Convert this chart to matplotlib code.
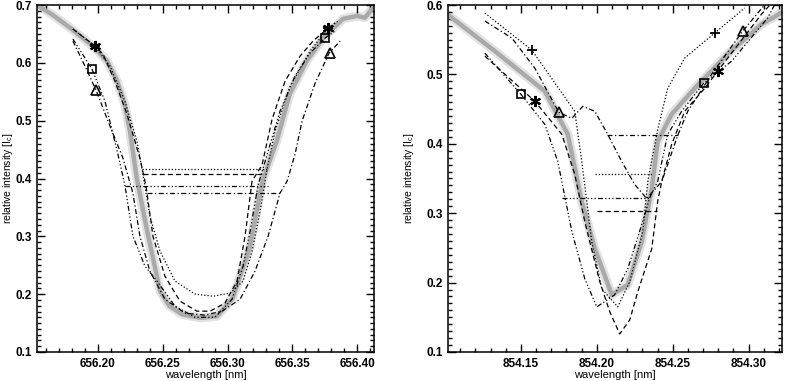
import matplotlib
matplotlib.use("Agg")
from matplotlib import pyplot as plt
from matplotlib.ticker import MultipleLocator, FormatStrFormatter

plt.rcParams['font.family'] = ['Liberation Sans', 'DejaVu Sans']

# ---------------- H-alpha panel (left) ----------------
ha_obs_x = [656.153, 656.165, 656.180, 656.197, 656.207, 656.2147, 656.2205, 656.2247, 656.230,
            656.238, 656.248, 656.255, 656.265, 656.279, 656.292, 656.304, 656.317, 656.327,
            656.338, 656.348, 656.361, 656.374, 656.389, 656.400, 656.406, 656.413]
ha_obs_y = [0.700, 0.683, 0.658, 0.627, 0.603, 0.569, 0.530, 0.482, 0.400,
            0.309, 0.205, 0.180, 0.165, 0.159, 0.162, 0.193, 0.280, 0.396,
            0.465, 0.546, 0.603, 0.643, 0.676, 0.681, 0.678, 0.697]

ha_dot_x = [656.1807, 656.1977, 656.2093, 656.2208, 656.2301, 656.234, 656.2401, 656.2479, 656.2595,
            656.275, 656.2888, 656.3019, 656.312, 656.3189, 656.3251, 656.3305, 656.3367, 656.3483,
            656.3637, 656.3776, 656.3853]
ha_dot_y = [0.6585, 0.629, 0.5945, 0.5339, 0.4647, 0.4163, 0.3349, 0.2744, 0.2225,
            0.200, 0.1965, 0.2017, 0.2225, 0.2744, 0.3436, 0.4163, 0.482, 0.5599,
            0.6204, 0.6602, 0.6723]

ha_dash_x = [656.1807, 656.1977, 656.2039, 656.2131, 656.2224, 656.2324, 656.2371, 656.2425, 656.2517,
             656.2633, 656.2764, 656.2865, 656.298, 656.3073, 656.3135, 656.3189, 656.3266, 656.3344,
             656.3444, 656.356, 656.366, 656.3776, 656.383]
ha_dash_y = [0.6585, 0.629, 0.615, 0.5685, 0.5114, 0.4353, 0.387, 0.300, 0.231,
             0.188, 0.1706, 0.1706, 0.1844, 0.2225, 0.300, 0.3955, 0.4232, 0.5028,
             0.5685, 0.6118, 0.6377, 0.6602, 0.6689]

ha_d3_x = [656.1807, 656.1954, 656.2054, 656.2154, 656.2208, 656.227, 656.2363, 656.2456, 656.2595,
           656.275, 656.2903, 656.3035, 656.312, 656.3174, 656.3236, 656.3313, 656.3405, 656.3521,
           656.3637, 656.3753, 656.383]
ha_d3_y = [0.6412, 0.5893, 0.5339, 0.4422, 0.3886, 0.3003, 0.2484, 0.2225, 0.1792,
           0.160, 0.160, 0.1913, 0.2484, 0.309, 0.3886, 0.4474, 0.5166, 0.5772,
           0.617, 0.6429, 0.655]

ha_dd_x = [656.1807, 656.190, 656.1985, 656.2093, 656.2193, 656.227, 656.2324, 656.2401, 656.2517,
           656.2672, 656.2826, 656.2958, 656.3097, 656.3212, 656.3313, 656.3405, 656.346, 656.3521,
           656.3575, 656.3676, 656.3784, 656.3869]
ha_dd_y = [0.6377, 0.5945, 0.553, 0.4906, 0.4353, 0.3747, 0.3003, 0.2398, 0.1913,
           0.1671, 0.1637, 0.1706, 0.1913, 0.2398, 0.3003, 0.3747, 0.3955, 0.4422,
           0.4993, 0.565, 0.617, 0.6377]

# widths (horizontal bars): dotted, dashed, dash-3dot, dash-dot
ha_bar_y = [0.4163, 0.4076, 0.387, 0.375]
ha_bar_x0 = [656.234, 656.235, 656.221, 656.238]
ha_bar_x1 = [656.3305, 656.329, 656.331, 656.342]

# symbol positions: plus, asterisk, square, triangle
ha_plus = ([656.1977, 656.3776], [0.629, 0.660])
ha_star = ([656.1977, 656.3776], [0.629, 0.660])
ha_sq = ([656.1954, 656.3753], [0.589, 0.643])
ha_tri = ([656.1985, 656.3790], [0.553, 0.617])

# ---------------- Ca II 854.2 panel (right) ----------------
ca_obs_x = [854.1013, 854.1329, 854.1658, 854.1809, 854.1901, 854.1987, 854.2099, 854.2204,
            854.2296, 854.2362, 854.2401, 854.2493, 854.2645, 854.2862, 854.3086, 854.3237]
ca_obs_y = [0.587, 0.5335, 0.4757, 0.4136, 0.3168, 0.2488, 0.1824, 0.1968,
            0.259, 0.3355, 0.4035, 0.4425, 0.480, 0.5292, 0.5725, 0.5913]

ca_dot_x = [854.1263, 854.1572, 854.1855, 854.1901, 854.1967, 854.2033, 854.2138, 854.2217,
            854.2303, 854.2336, 854.2401, 854.2467, 854.2579, 854.2776, 854.2974]
ca_dot_y = [0.5884, 0.535, 0.4468, 0.3746, 0.259, 0.191, 0.165, 0.2012,
            0.2734, 0.3457, 0.420, 0.480, 0.5234, 0.5595, 0.5957]

ca_dash_x = [854.1263, 854.1592, 854.177, 854.1855, 854.1921, 854.202, 854.2086, 854.2151,
             854.2217, 854.227, 854.2362, 854.2401, 854.2428, 854.2493, 854.2579, 854.2711,
             854.2796, 854.3086, 854.3140]
ca_dash_y = [0.5263, 0.4613, 0.4136, 0.3558, 0.2879, 0.2012, 0.1578, 0.126,
             0.1462, 0.1867, 0.2488, 0.3168, 0.3457, 0.3991, 0.4468, 0.480,
             0.5046, 0.587, 0.600]

ca_d3_x = [854.1263, 854.150, 854.1658, 854.1743, 854.1836, 854.1921, 854.200, 854.2118,
           854.2204, 854.2296, 854.2349, 854.2401, 854.2467, 854.2559, 854.2704, 854.2888,
           854.3125, 854.3171]
ca_d3_y = [0.5306, 0.4714, 0.428, 0.3746, 0.2734, 0.2055, 0.165, 0.1824,
           0.220, 0.2835, 0.3225, 0.3457, 0.4136, 0.4468, 0.4873, 0.5191,
           0.5812, 0.600]

ca_dd_x = [854.1263, 854.1441, 854.1592, 854.175, 854.1836, 854.1908, 854.1987, 854.2072,
           854.2164, 854.225, 854.2329, 854.2428, 854.2533, 854.2599, 854.2757, 854.2961,
           854.3105]
ca_dd_y = [0.5769, 0.5523, 0.509, 0.4454, 0.4367, 0.454, 0.4468, 0.4136,
           0.3746, 0.3413, 0.3211, 0.3457, 0.4121, 0.4468, 0.5003, 0.5624,
           0.600]

ca_bar_y = [0.3558, 0.3038, 0.3225, 0.4121]
ca_bar_x0 = [854.1987, 854.200, 854.177, 854.2066]
ca_bar_x1 = [854.2362, 854.2395, 854.2349, 854.2533]

ca_plus = ([854.1572, 854.2776], [0.535, 0.5595])
ca_star = ([854.1592, 854.2796], [0.4613, 0.5046])
ca_sq = ([854.150, 854.2704], [0.4714, 0.4873])
ca_tri = ([854.175, 854.2961], [0.4454, 0.5624])

styles = [(0, (1, 1.6)), (0, (4, 2.5)), (0, (4, 1.8, 1, 1.8, 1, 1.8, 1, 1.8)), (0, (4, 2, 1, 2))]
star = (6, 2, 0)


def panel(ax, obs, curves, bars, syms, xlim, ylim, xfmt):
    ax.plot(obs[0], obs[1], color='#e2e2e2', lw=6.5, solid_capstyle='round', zorder=1)
    ax.plot(obs[0], obs[1], color='#aaaaaa', lw=3.2, solid_capstyle='round', zorder=2)
    for (cx, cy), ls in zip(curves, styles):
        ax.plot(cx, cy, color='k', lw=0.9, ls=ls, zorder=3)
    by, bx0, bx1 = bars
    for i in range(len(by)):
        ax.plot([bx0[i], bx1[i]], [by[i], by[i]], color='k', lw=0.9, ls=styles[i], zorder=3)
    plus, st, sq, tri = syms
    ax.plot(*plus, ls='none', marker='+', ms=7, mew=1.3, color='k', zorder=4)
    ax.plot(*st, ls='none', marker=star, ms=8, mew=1.5, color='k', zorder=4)
    ax.plot(*sq, ls='none', marker='s', ms=6, mew=1.2, mfc='none', mec='k', zorder=4)
    ax.plot(*tri, ls='none', marker='^', ms=6.5, mew=1.2, mfc='none', mec='k', zorder=4)
    ax.set_xlim(*xlim)
    ax.set_ylim(*ylim)
    ax.xaxis.set_major_locator(MultipleLocator(0.05))
    ax.xaxis.set_minor_locator(MultipleLocator(0.01))
    ax.yaxis.set_major_locator(MultipleLocator(0.1))
    ax.yaxis.set_minor_locator(MultipleLocator(0.01))
    ax.xaxis.set_major_formatter(FormatStrFormatter(xfmt))
    ax.yaxis.set_major_formatter(FormatStrFormatter('%.1f'))
    ax.tick_params(which='both', direction='in', top=True, right=True, width=1.0)
    ax.tick_params(which='major', length=6, labelsize=8.5, pad=4)
    ax.tick_params(axis='y', which='major', pad=3.5)
    ax.tick_params(which='minor', length=3)
    for lab in ax.get_xticklabels() + ax.get_yticklabels():
        lab.set_fontweight('bold')
    for sp in ax.spines.values():
        sp.set_linewidth(1.1)
    ax.set_xlabel('wavelength [nm]', fontsize=8, labelpad=0)
    ax.set_ylabel('relative intensity [I$_\\mathregular{c}$]', fontsize=7.5)


fig = plt.figure(figsize=(7.87, 3.81), dpi=100)
ax1 = fig.add_axes([37 / 787, 29 / 381, 337 / 787, 347 / 381])
ax2 = fig.add_axes([448 / 787, 29 / 381, 334 / 787, 347 / 381])

panel(ax1, (ha_obs_x, ha_obs_y),
      [(ha_dot_x, ha_dot_y), (ha_dash_x, ha_dash_y), (ha_d3_x, ha_d3_y), (ha_dd_x, ha_dd_y)],
      (ha_bar_y, ha_bar_x0, ha_bar_x1), (ha_plus, ha_star, ha_sq, ha_tri),
      (656.153, 656.413), (0.1, 0.7), '%.2f')
panel(ax2, (ca_obs_x, ca_obs_y),
      [(ca_dot_x, ca_dot_y), (ca_dash_x, ca_dash_y), (ca_d3_x, ca_d3_y), (ca_dd_x, ca_dd_y)],
      (ca_bar_y, ca_bar_x0, ca_bar_x1), (ca_plus, ca_star, ca_sq, ca_tri),
      (854.102, 854.322), (0.1, 0.6), '%.2f')

ax1.yaxis.set_label_coords(-0.066, 0.5)
ax2.yaxis.set_label_coords(-0.095, 0.5)

fig.savefig("out.png", dpi=100)
